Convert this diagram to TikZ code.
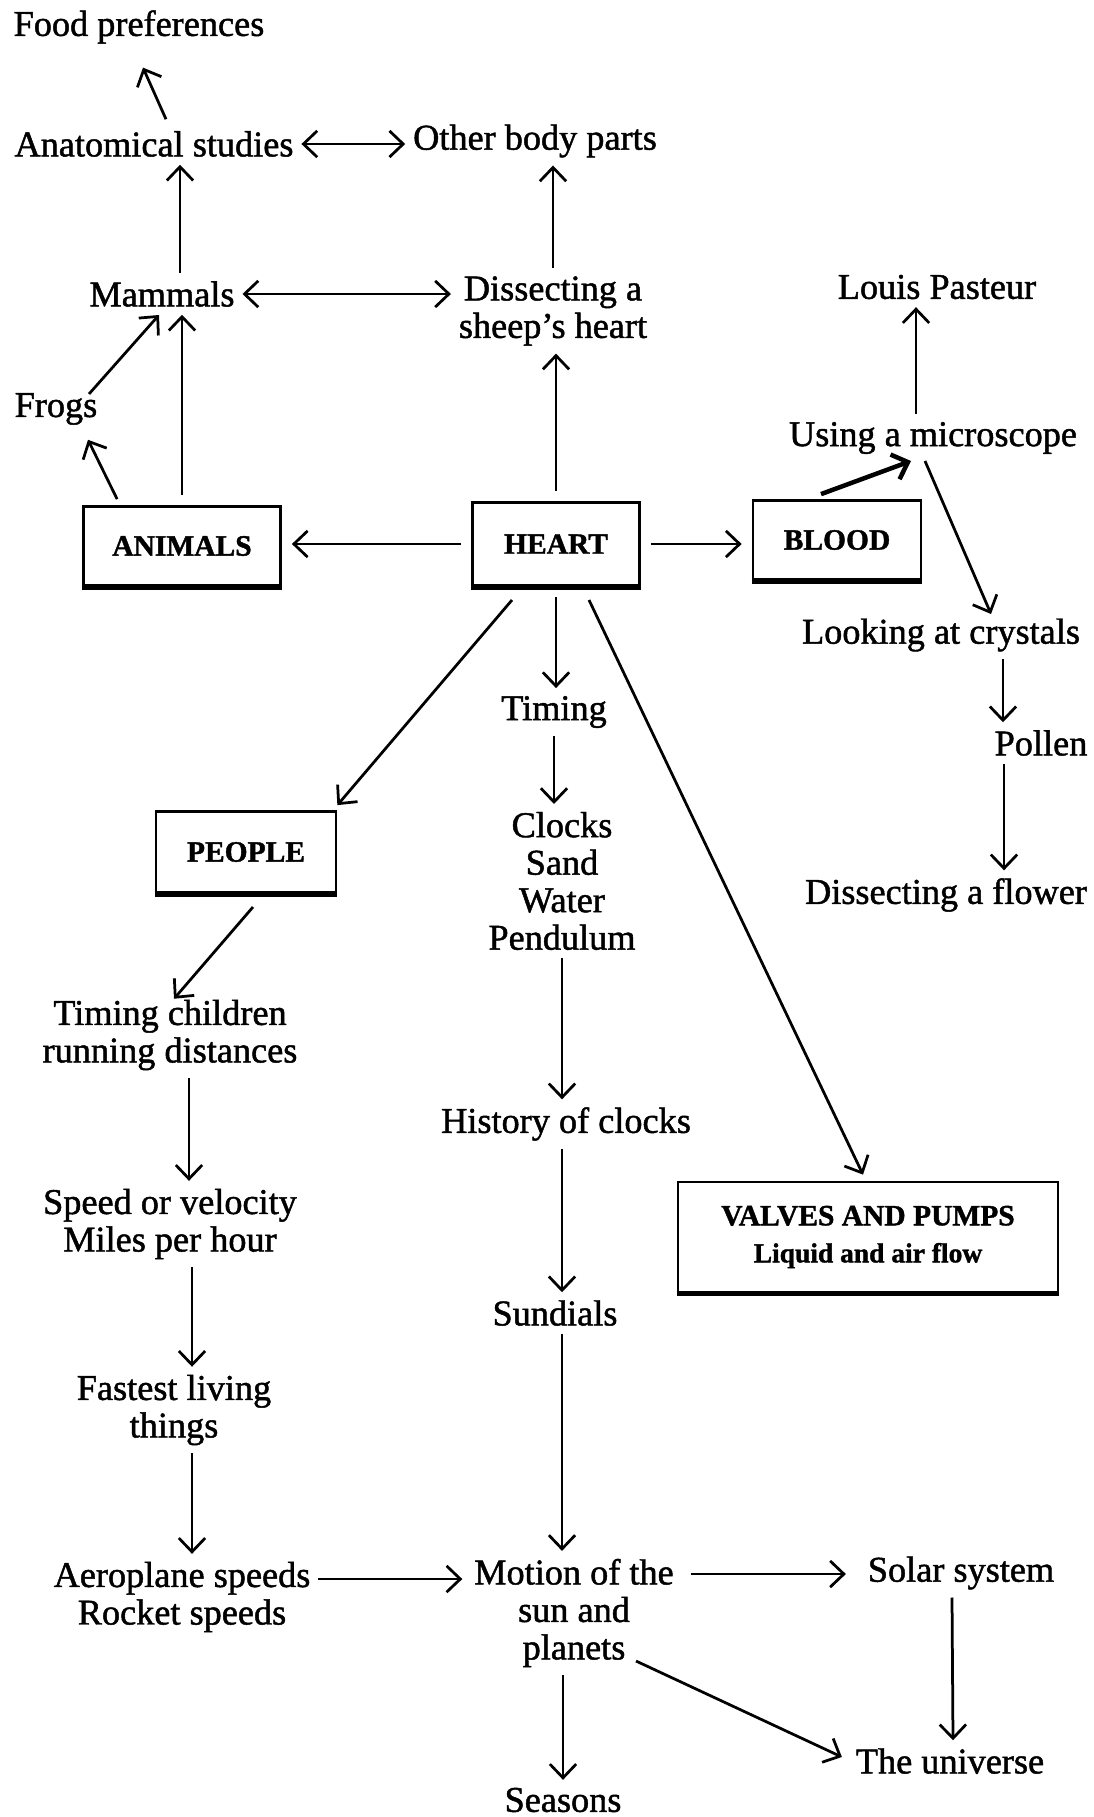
\documentclass[tikz,border=0pt]{standalone}
\usepackage{fontspec}
\setmainfont{Liberation Serif}[RawFeature={embolden=1.3}]
\usetikzlibrary{positioning,calc,arrows.meta}

\begin{document}
\begin{tikzpicture}[
  x=0.4pt, y=-0.4pt,
  >={Straight Barb[length=5.5pt,width=10.5pt]},
  topic/.style={
        font=\fontsize{14.5}{15}\selectfont,
        align=center,
        inner sep=3pt
  },
  boxnode/.style={
        draw,
        line width=1.1pt,
        font=\fontsize{11.8}{14.8}\selectfont\bfseries,
        align=center,
        inner sep=2pt
  },
  link/.style={
        line width=1.1pt,
        ->
  },
  boxlink/.style={
        link,
        shorten <=4pt
  }
]

    \useasboundingbox (0,0) rectangle (1093,1817);

    % top left: animals
    \node[topic] (food) at (139,27) {Food preferences};
    \node[topic] (anat) at (154,144) {Anatomical studies};
    \node[topic] (other) at (535,141) {Other body parts};
    \node[topic] (mammals) at (162,294) {Mammals};
    \node[topic] (sheep) at (553,311) {Dissecting a\\sheep's heart};
    \node[topic] (frogs) at (56,409) {Frogs};

    % top right: blood
    \node[topic] (pasteur) at (937,287) {Louis Pasteur};
    \node[topic] (micro) at (933,438) {Using a microscope};
    \node[topic] (crystals) at (941,635) {Looking at crystals};
    \node[topic] (pollen) at (1041,743) {Pollen};
    \node[topic] (flower) at (946,895) {Dissecting a flower};

    % boxes
    \node[boxnode, minimum width=78.8pt, minimum height=31.6pt] (animals) at (182,546) {ANIMALS};
    \node[boxnode, minimum width=66.8pt, minimum height=33.2pt] (heart) at (556,544) {HEART};
    \node[boxnode, minimum width=67.2pt, minimum height=31.6pt] (blood) at (837,540) {BLOOD};
    \node[boxnode, minimum width=72pt, minimum height=32.4pt] (people) at (246,852) {PEOPLE};
    \node[boxnode, minimum width=152pt, minimum height=44pt] (valves) at (868,1237)
    {VALVES AND PUMPS\\{\fontsize{11}{14}\selectfont Liquid and air flow}};

    % middle: timing
    \node[topic] (timing) at (554,712) {Timing};
    \node[topic] (clocks) at (562,881) {Clocks\\Sand\\Water\\Pendulum};
    \node[topic] (history) at (566,1124) {History of clocks};
    \node[topic] (sundials) at (555,1313) {Sundials};
    \node[topic] (motion) at (574,1613) {Motion of the\\sun and\\planets};
    \node[topic] (solar) at (961,1573) {Solar system};
    \node[topic] (universe) at (950,1761) {The universe};
    \node[topic] (seasons) at (563,1800) {Seasons};

    % left: people
    \node[topic] (children) at (170,1035) {Timing children\\running distances};
    \node[topic] (speed) at (170,1224) {Speed or velocity\\Miles per hour};
    \node[topic] (fastest) at (174,1410) {Fastest living\\things};
    \node[topic] (aero) at (182,1597) {Aeroplane speeds\\Rocket speeds};

    \foreach \b in {animals,heart,blood,people,valves}
        \draw[line width=2.2pt] (\b.south west) -- (\b.south east);

    \draw[link] ($(anat.north)+(12,-4)$) -- ($(food.south)+(4,16)$);
    \draw[link, <->] (anat.east) -- (anat.east -| other.west);
    \draw[link] ($(mammals.north)+(18,0)$) -- ($(anat.south)+(26,0)$);
    \draw[link, shorten <=4pt] (animals.north) -- (animals.north |- mammals.south);
    \draw[link] ($(animals.north west)+(35,-6)$) -- ($(frogs.south)+(32,7)$);
    \draw[link] ($(frogs)+(33,-15)$) -- ($(mammals)+(-3,21)$);
    \draw[link, <->] (mammals.east) -- (mammals.east -| sheep.west);
    \draw[link] (sheep.north) -- (sheep.north |- other.south);
    \draw[boxlink] (heart.north) -- (heart.north |- sheep.south);

    \draw[boxlink, shorten >=4pt] (heart.west) -- (heart.west -| animals.east);
    \draw[boxlink, shorten >=4pt] (heart.east) -- (heart.east -| blood.west);
    \draw[link, line width=1.8pt] ($(blood.north)+(-16,-5)$) -- ($(micro)+(-22,23)$);
    \draw[link] ($(micro.north)+(-17,0)$) -- ($(pasteur.south)+(-21,0)$);
    \draw[link] ($(micro)+(-8,23)$) -- ($(crystals)+(50,-21)$);
    \draw[link] ($(crystals.south)+(62,0)$) -- ($(pollen.north)+(-38,0)$);
    \draw[link] ($(pollen.south)+(-37,0)$) -- ($(flower.north)+(58,0)$);

    \draw[boxlink] (heart.south) -- (heart.south |- timing.north);
    \draw[link] (timing.south) -- (timing.south |- clocks.north);
    \draw[link] ($(heart)+(-44,56)$) -- ($(people.north east)+(0,-5)$);
    \draw[link] ($(heart)+(33,56)$) -- ($(valves.north)+(-5,-6)$);
    \draw[link] (clocks.south) -- (clocks.south |- history.north);
    \draw[link] (clocks.south |- history.south) -- (clocks.south |- sundials.north);
    \draw[link] (clocks.south |- sundials.south) -- (clocks.south |- motion.north);

    \draw[link] ($(people)+(7,55)$) -- ($(children.north)+(4,7)$);
    \draw[link] ($(children.south)+(19,0)$) -- ($(speed.north)+(19,0)$);
    \draw[link] ($(speed.south)+(22,0)$) -- ($(fastest.north)+(18,0)$);
    \draw[link] ($(fastest.south)+(18,0)$) -- ($(aero.north)+(10,0)$);
    \draw[link] ($(aero.east)+(0,-18)$) -- ($(motion.west)+(-4,-34)$);
    \draw[link] ($(motion.east)+(9,-39)$) -- ($(solar.west)+(-14,1)$);
    \draw[link] ($(solar.south)+(-9,0)$) -- ($(universe.north)+(3,0)$);
    \draw[link] ($(motion)+(62,48)$) -- ($(universe.west)+(-6,-4)$);
    \draw[link] (seasons.north |- motion.south) -- (seasons.north);
\end{tikzpicture}
\end{document}
